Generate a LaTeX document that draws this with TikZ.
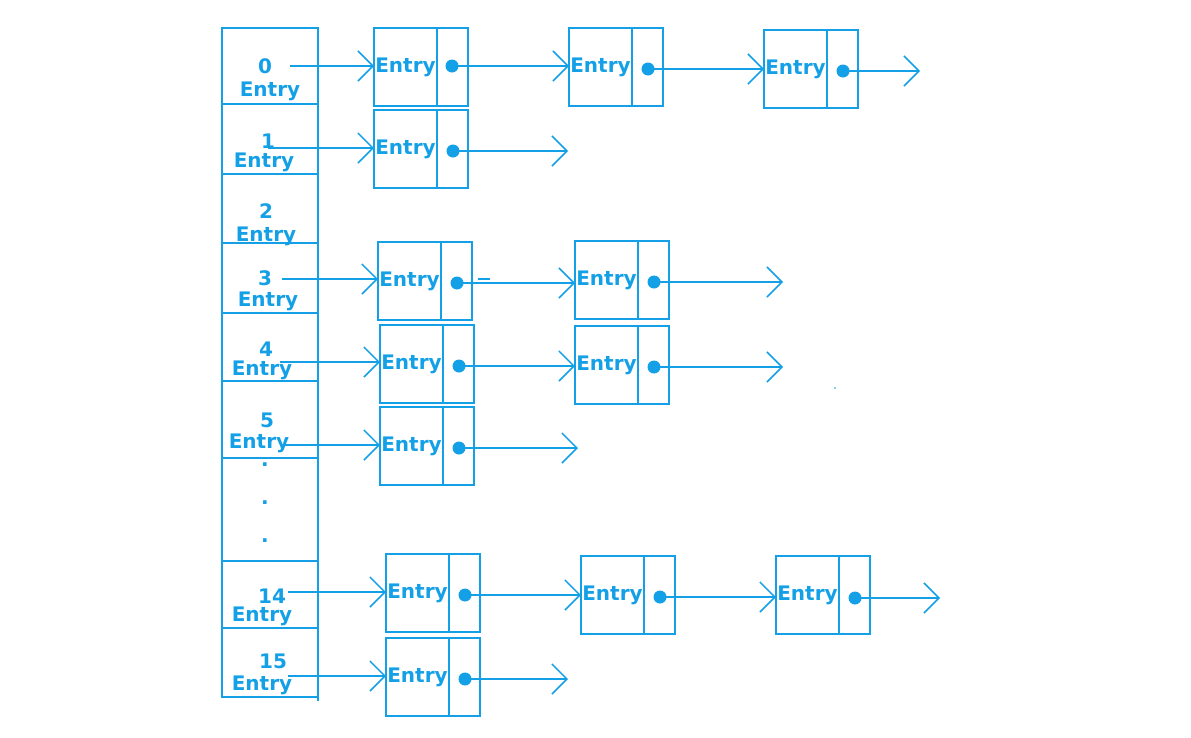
\documentclass[tikz,border=0pt]{standalone}
\usepackage{fontspec}
\setmainfont{DejaVu Sans}
\usetikzlibrary{arrows.meta}
\definecolor{bl}{RGB}{20,160,230}
\begin{document}
\begin{tikzpicture}[x=1pt,y=-1pt,
  every node/.style={text=bl, font=\bfseries\fontsize{20}{21}\selectfont},
  cell/.style={draw=bl, line width=1.5pt, minimum width=96pt, inner sep=0pt, outer sep=0pt, anchor=north west},
  ebox/.style={draw=bl, line width=1.5pt, minimum width=63pt, minimum height=78pt, inner sep=0pt, outer sep=0pt, anchor=north west},
  pbox/.style={draw=bl, line width=1.5pt, minimum width=31pt, minimum height=78pt, inner sep=0pt, outer sep=0pt, anchor=north west},
  lbl/.style={inner sep=0pt},
  dotn/.style={circle, fill=bl, minimum size=13pt, inner sep=0pt},
  arr/.style={draw=bl, line width=1.5pt, -{Straight Barb[length=15pt,width=30pt]}},
  ln/.style={draw=bl, line width=1.5pt}]
\useasboundingbox (0,0) rectangle (1191,737);
% left column
\node[cell, minimum height=76pt] (c0) at (222,28) {};
\node[cell, minimum height=70pt] (c1) at (222,104) {};
\node[cell, minimum height=69pt] (c2) at (222,174) {};
\node[cell, minimum height=70pt] (c3) at (222,243) {};
\node[cell, minimum height=68pt] (c4) at (222,313) {};
\node[cell, minimum height=77pt] (c5) at (222,381) {};
\node[cell, minimum height=103pt] (cd) at (222,458) {};
\node[cell, minimum height=67pt] (c14) at (222,561) {};
\node[cell, minimum height=69pt] (c15) at (222,628) {};
\draw[ln] (c15.south east) -- ++(0,4);
% labels
\node[lbl] (n0) at (265,66) {0};   \node[lbl] (t0) at (270,91) {Entry};
\node[lbl] (n1) at (268,141) {1};  \node[lbl] (t1) at (264,162) {Entry};
\node[lbl] (n2) at (266,211) {2};  \node[lbl] (t2) at (266,236) {Entry};
\node[lbl] (n3) at (265,278) {3};  \node[lbl] (t3) at (268,301) {Entry};
\node[lbl] (n4) at (266,349) {4};  \node[lbl] (t4) at (262,370) {Entry};
\node[lbl] (n5) at (267,420) {5};  \node[lbl] (t5) at (259,443) {Entry};
\node[lbl] (k1) at (265,465) {.};
\node[lbl] (k2) at (265,503) {.};
\node[lbl] (k3) at (265,541) {.};
\node[lbl] (n14) at (272,596) {14}; \node[lbl] (t14) at (262,616) {Entry};
\node[lbl] (n15) at (273,661) {15}; \node[lbl] (t15) at (262,685) {Entry};
% start points
\coordinate (s0) at (290,66);
\coordinate (s1) at (268,148);
\coordinate (s3) at (282,279);
\coordinate (s4) at (280,362);
\coordinate (s5) at (283,445);
\coordinate (s14) at (288,592);
\coordinate (s15) at (288,676);
% end points
\coordinate (e0) at (920,68);
\coordinate (e1) at (568,148);
\coordinate (e3) at (783,283);
\coordinate (e4) at (783,364);
\coordinate (e5) at (578,447);
\coordinate (e14) at (940,599);
\coordinate (e15) at (568,679);
% entry boxes
\node[ebox] (b00) at (374,28) {Entry};  \node[pbox] (p00) at (b00.north east) {};
\node[ebox] (b01) at (569,28) {Entry};  \node[pbox] (p01) at (b01.north east) {};
\node[ebox] (b02) at (764,30) {Entry};  \node[pbox] (p02) at (b02.north east) {};
\node[ebox] (b10) at (374,110) {Entry}; \node[pbox] (p10) at (b10.north east) {};
\node[ebox] (b30) at (378,242) {Entry}; \node[pbox] (p30) at (b30.north east) {};
\node[ebox] (b31) at (575,241) {Entry}; \node[pbox] (p31) at (b31.north east) {};
\node[ebox] (b40) at (380,325) {Entry}; \node[pbox] (p40) at (b40.north east) {};
\node[ebox] (b41) at (575,326) {Entry}; \node[pbox] (p41) at (b41.north east) {};
\node[ebox] (b50) at (380,407) {Entry}; \node[pbox] (p50) at (b50.north east) {};
\node[ebox] (b140) at (386,554) {Entry}; \node[pbox] (p140) at (b140.north east) {};
\node[ebox] (b141) at (581,556) {Entry}; \node[pbox] (p141) at (b141.north east) {};
\node[ebox] (b142) at (776,556) {Entry}; \node[pbox] (p142) at (b142.north east) {};
\node[ebox] (b150) at (386,638) {Entry}; \node[pbox] (p150) at (b150.north east) {};
% dots
\node[dotn] (d00) at (452,66) {};
\node[dotn] (d01) at (648,69) {};
\node[dotn] (d02) at (843,71) {};
\node[dotn] (d10) at (453,151) {};
\node[dotn] (d30) at (457,283) {};
\node[dotn] (d31) at (654,282) {};
\node[dotn] (d40) at (459,366) {};
\node[dotn] (d41) at (654,367) {};
\node[dotn] (d50) at (459,448) {};
\node[dotn] (d140) at (465,595) {};
\node[dotn] (d141) at (660,597) {};
\node[dotn] (d142) at (855,598) {};
\node[dotn] (d150) at (465,679) {};
% arrows from table
\draw[arr] (s0) -- (s0 -| b00.west);
\draw[arr] (s1) -- (s1 -| b10.west);
\draw[arr] (s3) -- (s3 -| b30.west);
\draw[arr] (s4) -- (s4 -| b40.west);
\draw[arr] (s5) -- (s5 -| b50.west);
\draw[arr] (s14) -- (s14 -| b140.west);
\draw[arr] (s15) -- (s15 -| b150.west);
% arrows between entries
\draw[arr] (d00.center) -- (d00.center -| b01.west);
\draw[arr] (d01.center) -- (d01.center -| b02.west);
\draw[arr] (d02.center) -- (d02.center -| e0);
\draw[arr] (d10.center) -- (d10.center -| e1);
\draw[arr] (d30.center) -- (d30.center -| b31.west);
\draw[ln, line width=1.8pt] (478,279) -- (490,279);
\draw[arr] (d31.center) -- (d31.center -| e3);
\draw[arr] (d40.center) -- (d40.center -| b41.west);
\draw[arr] (d41.center) -- (d41.center -| e4);
\fill[bl] (835,388) circle (0.9);
\draw[arr] (d50.center) -- (d50.center -| e5);
\draw[arr] (d140.center) -- (d140.center -| b141.west);
\draw[arr] (d141.center) -- (d141.center -| b142.west);
\draw[arr] (d142.center) -- (d142.center -| e14);
\draw[arr] (d150.center) -- (d150.center -| e15);
\end{tikzpicture}
\end{document}
